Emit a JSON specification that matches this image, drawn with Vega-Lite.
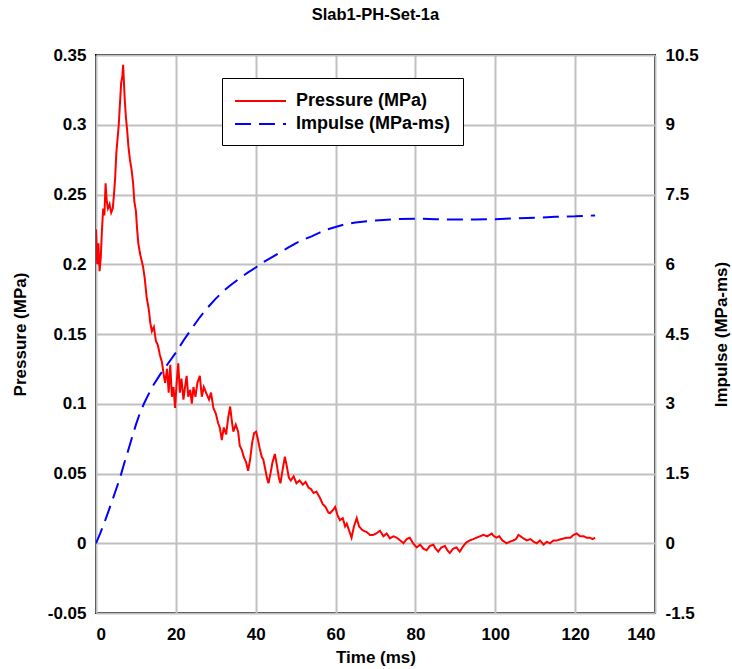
{
  "$schema": "https://vega.github.io/schema/vega-lite/v6.json",
  "width": 559,
  "height": 558,
  "autosize": "none",
  "padding": {"left": 96, "top": 55, "right": 77, "bottom": 56},
  "title": {"text": "Slab1-PH-Set-1a", "fontSize": 16.5, "fontWeight": "bold", "font": "Liberation Sans", "color": "black", "offset": 23},
  "config": {
    "font": "Liberation Sans",
    "view": {"stroke": "black", "strokeWidth": 2},
    "axis": {"labelFont": "Liberation Sans", "labelFontSize": 17, "labelFontWeight": "bold", "labelColor": "black", "titleFont": "Liberation Sans", "titleFontSize": 17, "titleFontWeight": "bold", "titleColor": "black", "ticks": false, "domain": false, "gridColor": "#c0c0c0", "gridWidth": 2, "gridOpacity": 1, "labelExpr": "toString(datum.value)"}
  },
  "datasets": {
    "pressure": [
      {"t":0,"p":0.225},{"t":0.3,"p":0.2},{"t":0.6,"p":0.215},{"t":0.9,"p":0.195},{"t":1.2,"p":0.205},{"t":1.5,"p":0.225},{"t":1.8,"p":0.24},{"t":2.1,"p":0.235},{"t":2.4,"p":0.258},{"t":2.7,"p":0.245},{"t":3.0,"p":0.24},{"t":3.4,"p":0.243},{"t":3.8,"p":0.237},{"t":4.2,"p":0.24},{"t":4.5,"p":0.25},{"t":4.8,"p":0.262},{"t":5.1,"p":0.28},{"t":5.4,"p":0.29},{"t":5.7,"p":0.3},{"t":6.0,"p":0.315},{"t":6.3,"p":0.33},{"t":6.6,"p":0.335},{"t":6.8,"p":0.343},{"t":7.0,"p":0.33},{"t":7.2,"p":0.318},{"t":7.5,"p":0.305},{"t":7.8,"p":0.296},{"t":8.1,"p":0.285},{"t":8.5,"p":0.275},{"t":8.9,"p":0.268},{"t":9.3,"p":0.258},{"t":9.6,"p":0.245},{"t":10.0,"p":0.238},{"t":10.3,"p":0.225},{"t":10.6,"p":0.215},{"t":11.0,"p":0.208},{"t":11.4,"p":0.203},{"t":11.8,"p":0.198},{"t":12.2,"p":0.19},{"t":12.7,"p":0.176},{"t":13.2,"p":0.168},{"t":13.6,"p":0.158},{"t":14.0,"p":0.152},{"t":14.5,"p":0.155},{"t":15.0,"p":0.145},{"t":15.5,"p":0.142},{"t":16.0,"p":0.135},{"t":16.5,"p":0.13},{"t":17.0,"p":0.12},{"t":17.3,"p":0.115},{"t":17.8,"p":0.125},{"t":18.2,"p":0.108},{"t":18.6,"p":0.128},{"t":19.0,"p":0.105},{"t":19.4,"p":0.112},{"t":19.8,"p":0.097},{"t":20.2,"p":0.115},{"t":20.6,"p":0.129},{"t":21.0,"p":0.108},{"t":21.4,"p":0.118},{"t":21.9,"p":0.103},{"t":22.3,"p":0.112},{"t":22.7,"p":0.12},{"t":23.1,"p":0.105},{"t":23.6,"p":0.11},{"t":24.0,"p":0.1},{"t":24.4,"p":0.112},{"t":24.9,"p":0.105},{"t":25.4,"p":0.115},{"t":26.0,"p":0.12},{"t":26.5,"p":0.105},{"t":27.0,"p":0.112},{"t":27.7,"p":0.107},{"t":28.3,"p":0.103},{"t":28.8,"p":0.108},{"t":29.4,"p":0.097},{"t":30.0,"p":0.093},{"t":30.6,"p":0.086},{"t":31.0,"p":0.083},{"t":31.5,"p":0.074},{"t":32.0,"p":0.083},{"t":32.6,"p":0.078},{"t":33.1,"p":0.09},{"t":33.6,"p":0.098},{"t":34.0,"p":0.088},{"t":34.4,"p":0.08},{"t":35.0,"p":0.085},{"t":35.6,"p":0.08},{"t":36.0,"p":0.07},{"t":36.5,"p":0.067},{"t":37.0,"p":0.062},{"t":37.6,"p":0.058},{"t":38.1,"p":0.052},{"t":38.6,"p":0.06},{"t":39.1,"p":0.072},{"t":39.6,"p":0.079},{"t":40.1,"p":0.08},{"t":40.5,"p":0.075},{"t":41.0,"p":0.068},{"t":41.5,"p":0.062},{"t":41.9,"p":0.06},{"t":42.4,"p":0.053},{"t":42.8,"p":0.047},{"t":43.2,"p":0.043},{"t":43.7,"p":0.05},{"t":44.2,"p":0.058},{"t":44.8,"p":0.064},{"t":45.3,"p":0.056},{"t":45.8,"p":0.047},{"t":46.2,"p":0.043},{"t":46.7,"p":0.052},{"t":47.3,"p":0.062},{"t":47.8,"p":0.055},{"t":48.3,"p":0.047},{"t":48.8,"p":0.045},{"t":49.5,"p":0.048},{"t":50.2,"p":0.043},{"t":51.0,"p":0.045},{"t":51.8,"p":0.042},{"t":52.5,"p":0.044},{"t":53.2,"p":0.04},{"t":53.8,"p":0.039},{"t":54.5,"p":0.036},{"t":55.2,"p":0.037},{"t":56.0,"p":0.033},{"t":56.8,"p":0.028},{"t":57.5,"p":0.026},{"t":58.2,"p":0.022},{"t":58.6,"p":0.0215},{"t":59.4,"p":0.024},{"t":59.9,"p":0.026},{"t":60.5,"p":0.02},{"t":61.1,"p":0.0165},{"t":61.8,"p":0.018},{"t":62.4,"p":0.012},{"t":62.8,"p":0.014},{"t":63.4,"p":0.009},{"t":64.0,"p":0.004},{"t":64.6,"p":0.012},{"t":65.3,"p":0.018},{"t":65.9,"p":0.012},{"t":66.5,"p":0.01},{"t":67.0,"p":0.009},{"t":67.8,"p":0.008},{"t":68.6,"p":0.006},{"t":69.4,"p":0.006},{"t":70.2,"p":0.007},{"t":71.1,"p":0.009},{"t":72.0,"p":0.005},{"t":72.8,"p":0.007},{"t":73.6,"p":0.0035},{"t":74.5,"p":0.005},{"t":75.3,"p":0.004},{"t":76.2,"p":0.002},{"t":77.0,"p":0.0},{"t":77.8,"p":0.003},{"t":78.6,"p":0.004},{"t":79.4,"p":0.0},{"t":80.3,"p":-0.003},{"t":81.2,"p":-0.001},{"t":82.0,"p":-0.004},{"t":82.8,"p":-0.005},{"t":83.6,"p":-0.002},{"t":84.5,"p":-0.001},{"t":85.1,"p":-0.004},{"t":85.7,"p":-0.006},{"t":86.5,"p":-0.003},{"t":87.4,"p":-0.002},{"t":88.0,"p":-0.005},{"t":88.6,"p":-0.007},{"t":89.4,"p":-0.004},{"t":90.3,"p":-0.003},{"t":91.1,"p":-0.006},{"t":92.0,"p":-0.002},{"t":92.8,"p":0.0007},{"t":93.6,"p":0.002},{"t":94.5,"p":0.003},{"t":95.3,"p":0.004},{"t":96.2,"p":0.005},{"t":97.0,"p":0.006},{"t":98.0,"p":0.005},{"t":99.1,"p":0.007},{"t":99.7,"p":0.005},{"t":100.3,"p":0.004},{"t":101.0,"p":0.005},{"t":101.8,"p":0.002},{"t":102.8,"p":0.0},{"t":103.6,"p":0.001},{"t":104.5,"p":0.002},{"t":105.2,"p":0.003},{"t":105.8,"p":0.006},{"t":106.8,"p":0.004},{"t":107.9,"p":0.002},{"t":108.8,"p":0.003},{"t":109.6,"p":0.001},{"t":110.4,"p":0.0},{"t":111.2,"p":0.002},{"t":112.1,"p":-0.001},{"t":112.9,"p":0.001},{"t":113.7,"p":0.0},{"t":114.6,"p":0.002},{"t":115.4,"p":0.002},{"t":116.5,"p":0.003},{"t":117.9,"p":0.004},{"t":118.8,"p":0.004},{"t":119.6,"p":0.006},{"t":120.4,"p":0.007},{"t":121.2,"p":0.005},{"t":122.1,"p":0.005},{"t":122.9,"p":0.004},{"t":123.7,"p":0.004},{"t":124.4,"p":0.003},{"t":125.0,"p":0.004}
    ],
    "impulse": [
      {"t":0,"i":0},{"t":1,"i":0.2},{"t":2,"i":0.42},{"t":3,"i":0.66},{"t":4,"i":0.9},{"t":5,"i":1.15},{"t":6,"i":1.4},{"t":7,"i":1.7},{"t":8,"i":1.98},{"t":9,"i":2.27},{"t":10,"i":2.55},{"t":11,"i":2.8},{"t":12,"i":3.0},{"t":14,"i":3.35},{"t":16,"i":3.62},{"t":18,"i":3.86},{"t":20,"i":4.1},{"t":22,"i":4.37},{"t":24,"i":4.62},{"t":26,"i":4.86},{"t":28,"i":5.07},{"t":30,"i":5.26},{"t":32,"i":5.43},{"t":34,"i":5.57},{"t":36,"i":5.7},{"t":38,"i":5.82},{"t":40,"i":5.93},{"t":42,"i":6.05},{"t":44,"i":6.15},{"t":46,"i":6.25},{"t":48,"i":6.35},{"t":50,"i":6.45},{"t":52,"i":6.53},{"t":54,"i":6.6},{"t":56,"i":6.68},{"t":58,"i":6.75},{"t":60,"i":6.8},{"t":62,"i":6.85},{"t":65,"i":6.9},{"t":70,"i":6.94},{"t":75,"i":6.97},{"t":80,"i":6.98},{"t":85,"i":6.97},{"t":90,"i":6.96},{"t":95,"i":6.96},{"t":100,"i":6.97},{"t":105,"i":6.99},{"t":110,"i":7.0},{"t":115,"i":7.02},{"t":120,"i":7.03},{"t":125,"i":7.05}
    ]
  },
  "layer": [
    {
      "data": {"name": "pressure"},
      "transform": [{"calculate": "'Pressure (MPa)'", "as": "series"}],
      "mark": {"type": "line", "strokeWidth": 2, "clip": true},
      "encoding": {
        "x": {"field": "t", "type": "quantitative", "scale": {"domain": [0, 140], "nice": false}, "axis": {"title": "Time (ms)", "values": [0,20,40,60,80,100,120,140], "labelPadding": 13, "titlePadding": 7}},
        "y": {"field": "p", "type": "quantitative", "scale": {"domain": [-0.05, 0.35], "nice": false, "zero": false}, "axis": {"title": "Pressure (MPa)", "orient": "left", "values": [-0.05,0,0.05,0.1,0.15,0.2,0.25,0.3,0.35], "labelPadding": 10, "titlePadding": 18}},
        "color": {"field": "series", "type": "nominal", "scale": {"domain": ["Pressure (MPa)", "Impulse (MPa-ms)"], "range": ["#ff0000", "#0000ff"]}, "legend": {"title": null, "orient": "none", "legendX": 126, "legendY": 23, "strokeColor": "black", "fillColor": "white", "padding": 12, "symbolType": "M-1,0H4.1", "symbolSize": 400, "symbolStrokeWidth": 2, "labelFont": "Liberation Sans", "labelFontSize": 18, "labelFontWeight": "bold", "labelColor": "black", "rowPadding": 3, "labelOffset": 40}},
        "strokeDash": {"field": "series", "type": "nominal", "scale": {"domain": ["Pressure (MPa)", "Impulse (MPa-ms)"], "range": [[1, 0], [16, 8]]}, "legend": {"title": null, "orient": "none", "legendX": 126, "legendY": 23, "strokeColor": "black", "fillColor": "white", "padding": 12, "symbolType": "M-1,0H4.1", "symbolSize": 400, "symbolStrokeWidth": 2, "labelFont": "Liberation Sans", "labelFontSize": 18, "labelFontWeight": "bold", "labelColor": "black", "rowPadding": 3, "labelOffset": 40}}
      }
    },
    {
      "data": {"name": "impulse"},
      "transform": [{"calculate": "'Impulse (MPa-ms)'", "as": "series"}],
      "mark": {"type": "line", "strokeWidth": 2, "clip": true},
      "encoding": {
        "x": {"field": "t", "type": "quantitative"},
        "y": {"field": "i", "type": "quantitative", "scale": {"domain": [-1.5, 10.5], "nice": false, "zero": false}, "axis": {"title": "Impulse (MPa-ms)", "orient": "right", "grid": false, "titleAngle": 270, "values": [-1.5,0,1.5,3,4.5,6,7.5,9,10.5], "labelPadding": 10, "titlePadding": 32}},
        "color": {"field": "series", "type": "nominal"},
        "strokeDash": {"field": "series", "type": "nominal"}
      }
    }
  ],
  "resolve": {"scale": {"y": "independent"}}
}
